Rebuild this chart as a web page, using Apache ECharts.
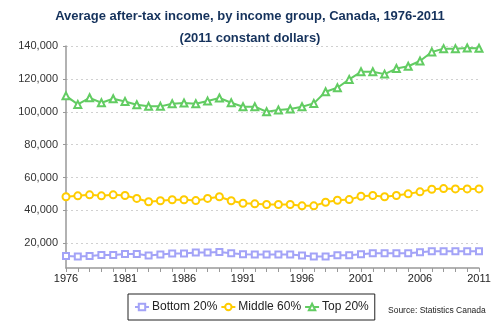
<!DOCTYPE html>
<html>
<head>
<meta charset="utf-8">
<script src="https://cdn.jsdelivr.net/npm/echarts@6/dist/echarts.min.js"></script>
<style>html,body{margin:0;padding:0;background:#fff}#c{width:500px;height:335px}</style>
</head>
<body>
<div id="c"></div>
<script>
const years = [];
for (let y = 1976; y <= 2011; y++) years.push(String(y));
const bottom20 = [12300,12000,12300,12900,12900,13500,13500,12600,13200,13800,13800,14400,14400,14800,14000,13400,13200,13200,13200,13200,12600,12000,12000,12800,12800,13400,14000,14000,14000,14000,14600,15200,15200,15200,15200,15200];
const middle60 = [48300,48900,49500,48900,49500,49100,47300,45300,45900,46500,46500,46000,47300,48300,45900,44400,44000,43600,43600,43600,42800,42800,45000,46200,46600,48600,49100,48300,49100,50100,51300,52900,53300,53100,53100,53100];
const top20 = [109700,104500,108500,105500,107900,106300,104300,103300,103300,104900,105300,104900,106500,108400,105500,103100,103100,100000,101100,101700,103100,105100,112200,114600,119700,124300,124300,122900,126300,127700,130900,136400,138400,138400,138800,138600];
const yTicks = [20000,40000,60000,80000,100000,120000,140000];
const seriesNames = ['Bottom 20%','Middle 60%','Top 20%'];

const chart = echarts.init(document.getElementById('c'), null, {renderer:'canvas'});
const fmt = v => String(v).replace(/\B(?=(\d{3})+(?!\d))/g, ',');
const common = {type:'line', showSymbol:true, showAllSymbol:true, lineStyle:{width:2}, itemStyle:{borderWidth:1.2}};
chart.setOption({
  animation: false,
  backgroundColor: '#fff',
  title: {
    text: 'Average after-tax income, by income group, Canada, 1976-2011\n(2011 constant dollars)',
    left: 'center', top: 0,
    textStyle: {fontFamily:'Liberation Sans, Arial', fontSize:13, fontWeight:'bold', color:'#15325c', lineHeight:22}
  },
  grid: {left: 66, right: 21, top: 46, bottom: 67},
  xAxis: {
    type: 'category', data: years, boundaryGap: false,
    axisLine: {lineStyle: {color:'#999', width:1.5}},
    axisTick: {show:true, interval:0, length:4, lineStyle:{color:'#999'}},
    axisLabel: {interval:4, color:'#222', fontFamily:'Liberation Sans, Arial', fontSize:11, margin:5},
    splitLine: {show:false}
  },
  yAxis: {
    type: 'value', min: 5000, max: 140000,
    axisLine: {show:true, lineStyle: {color:'#999', width:1.5}},
    axisTick: {show:true, length:3, customValues: yTicks, lineStyle:{color:'#999'}},
    axisLabel: {customValues: yTicks, formatter: v => fmt(v), color:'#333', fontFamily:'Liberation Sans, Arial', fontSize:11, margin:8},
    splitLine: {show:true, lineStyle: {color:'#d0d0d0', type:[2,3], width:1}}
  },
  legend: {
    data: seriesNames,
    left: 128, top: 294,
    padding: [7, 6, 7, 6],
    borderColor: '#222', borderWidth: 1,
    itemWidth: 14, itemHeight: 8, itemGap: 3,
    textStyle: {fontFamily:'Liberation Sans, Arial', fontSize:12, color:'#222', padding:[0,0,0,-2]}
  },
  graphic: [{
    type:'text', left: 388, top: 306,
    style: {text:'Source: Statistics Canada', fontFamily:'Liberation Sans, Arial', fontSize:8.5, fill:'#222'}
  }],
  series: [
    Object.assign({name: seriesNames[0], data: bottom20, symbol:'emptyRect', symbolSize:6, color:'#a3a3f7'}, common),
    Object.assign({name: seriesNames[1], data: middle60, symbol:'emptyCircle', symbolSize:7, color:'#ffcc00'}, common),
    Object.assign({name: seriesNames[2], data: top20, symbol:'emptyTriangle', symbolSize:7, color:'#62cc62'}, common)
  ]
});
</script>
</body>
</html>
